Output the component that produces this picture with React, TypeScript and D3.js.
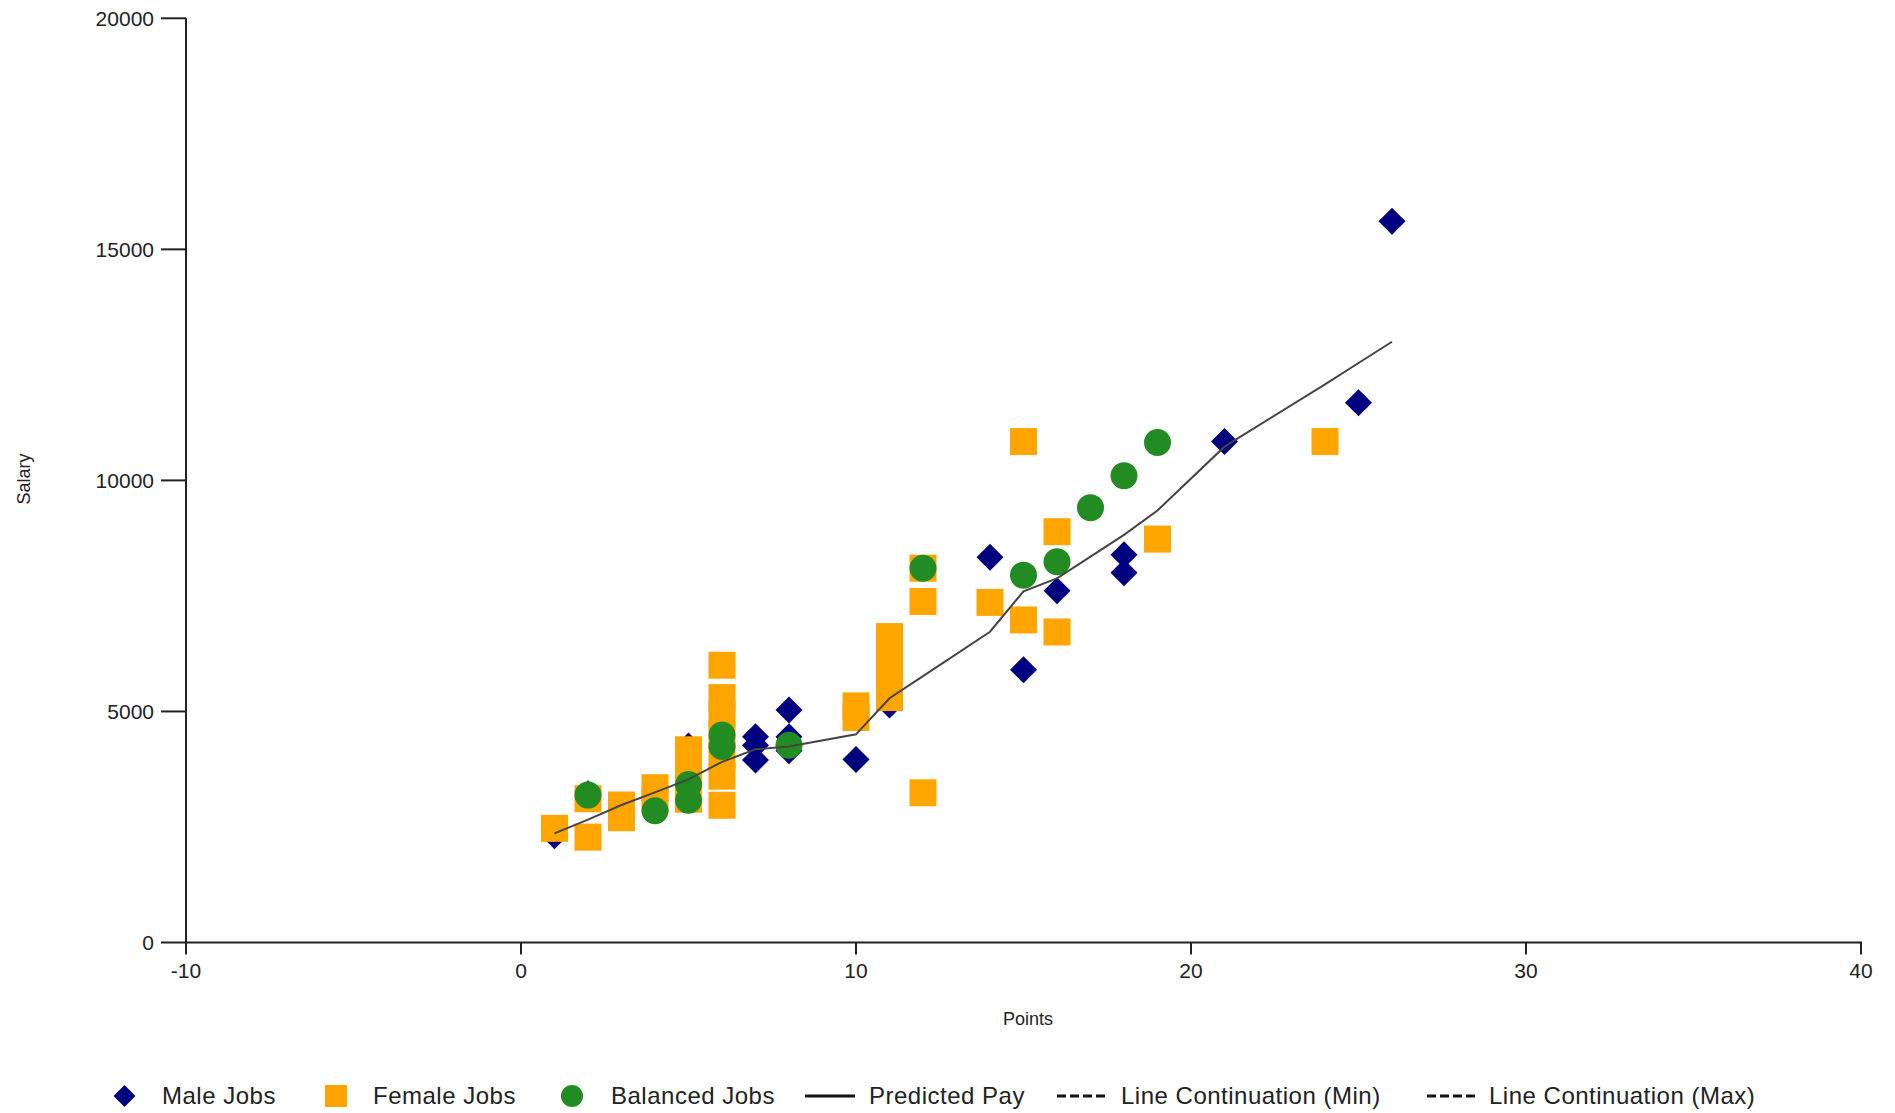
import React from "react";
import * as d3 from "d3";

// scatter data: [points, salary]
const maleJobs: [number, number][] = [
  [1, 2310], [2, 3220], [5, 4250], [7, 4450], [7, 4270], [7, 3950],
  [8, 5030], [8, 4450], [8, 4150], [10, 3960], [11, 5140], [14, 8335],
  [15, 5900], [16, 7610], [18, 8390], [18, 8000], [21, 10840], [25, 11680],
  [26, 15610],
];

const femaleJobs: [number, number][] = [
  [1, 2470], [2, 3110], [2, 2280], [3, 2975], [3, 2700], [4, 3350],
  [4, 3100], [5, 4170], [5, 3750], [5, 3400], [5, 3100], [6, 6000],
  [6, 5300], [6, 4950], [6, 4500], [6, 4050], [6, 3600], [6, 2970],
  [10, 5120], [10, 4870], [11, 6620], [11, 6150], [11, 5700], [11, 5300],
  [12, 8100], [12, 7380], [12, 3240], [14, 7360], [15, 10840], [15, 6980],
  [16, 8890], [16, 6720], [19, 8730], [24, 10840],
];

const balancedJobs: [number, number][] = [
  [2, 3190], [4, 2850], [5, 3420], [5, 3080], [6, 4490], [6, 4240],
  [8, 4270], [12, 8100], [15, 7950], [16, 8240], [17, 9410], [18, 10100],
  [19, 10820],
];

const predictedPay: [number, number][] = [
  [1, 2360], [2, 2660], [3, 2975], [4, 3250], [5, 3530], [6, 3910],
  [7, 4180], [8, 4240], [10, 4505], [11, 5285], [12, 5765], [14, 6725],
  [15, 7600], [16, 7880], [18, 8820], [19, 9350], [21, 10730], [24, 12080],
  [25, 12540], [26, 13000],
];

const xTicks = [-10, 0, 10, 20, 30, 40];
const yTicks = [0, 5000, 10000, 15000, 20000];

const legendItems = [
  { label: "Male Jobs", kind: "diamond" },
  { label: "Female Jobs", kind: "square" },
  { label: "Balanced Jobs", kind: "circle" },
  { label: "Predicted Pay", kind: "line" },
  { label: "Line Continuation (Min)", kind: "dash" },
  { label: "Line Continuation (Max)", kind: "dash" },
];

const MALE = "#000080";
const FEMALE = "#FFA500";
const BALANCED = "#228B22";
const FONT = "'Liberation Sans', Arial, sans-serif";

// square rotated 45deg, size = half diagonal squared
const diamondType = {
  draw(context: any, size: number) {
    const r = Math.sqrt(size);
    context.moveTo(0, -r);
    context.lineTo(r, 0);
    context.lineTo(0, r);
    context.lineTo(-r, 0);
    context.closePath();
  },
};

const symbolPath = (kind: string, px: number) => {
  if (kind === "diamond") return d3.symbol().type(diamondType as any).size((px / 2) ** 2)()!;
  if (kind === "square") return d3.symbol().type(d3.symbolSquare).size(px * px)()!;
  return d3.symbol().type(d3.symbolCircle).size(Math.PI * (px / 2) ** 2)()!;
};

export default function App() {
  const width = 1895;
  const height = 1113;

  const x = d3.scaleLinear().domain([-10, 40]).range([186, 1861]);
  const y = d3.scaleLinear().domain([0, 20000]).range([942.5, 18.3]);

  const line = d3
    .line<[number, number]>()
    .x((d) => x(d[0]))
    .y((d) => y(d[1]));

  const markerSize = 27;
  const legendSize = 22;
  const legendY = 1096;
  const legendSymbolX = [124.5, 336, 572, 830, 1082, 1452];
  const legendTextX = [162, 373, 611, 869, 1121, 1489];

  const series = [
    { data: maleJobs, kind: "diamond", color: MALE },
    { data: femaleJobs, kind: "square", color: FEMALE },
    { data: balancedJobs, kind: "circle", color: BALANCED },
  ];

  return (
    <svg
      width={width}
      height={height}
      viewBox={`0 0 ${width} ${height}`}
      style={{ position: "absolute", left: 0, top: 0, background: "#fff" }}
      fontFamily={FONT}
    >
      {/* axes */}
      <g stroke="#222" strokeWidth={2}>
        <line x1={x(-10)} x2={x(-10)} y1={y(20000)} y2={y(0) + 1} />
        <line x1={x(-10) - 1} x2={x(40) + 1} y1={y(0)} y2={y(0)} />
        {yTicks.map((t) => (
          <line key={`yt-${t}`} x1={x(-10) - 25} x2={x(-10)} y1={y(t)} y2={y(t)} />
        ))}
        {xTicks.map((t) => (
          <line key={`xt-${t}`} x1={x(t)} x2={x(t)} y1={y(0)} y2={y(0) + 12} />
        ))}
      </g>
      <g fill="#222" fontSize={21}>
        {yTicks.map((t) => (
          <text key={`yl-${t}`} x={x(-10) - 32} y={y(t)} dy="0.35em" textAnchor="end">
            {t}
          </text>
        ))}
        {xTicks.map((t) => (
          <text key={`xl-${t}`} x={x(t)} y={y(0) + 35} textAnchor="middle">
            {t}
          </text>
        ))}
      </g>
      <text
        x={0}
        y={0}
        transform="translate(24,479) rotate(-90)"
        textAnchor="middle"
        dy="0.35em"
        fontSize={18}
        fill="#222"
      >
        Salary
      </text>
      <text x={1028} y={1019} dy="0.35em" textAnchor="middle" fontSize={18} fill="#222">
        Points
      </text>

      {/* scatter */}
      {series.map((s) => (
        <g key={s.kind} fill={s.color}>
          {s.data.map((d, i) => (
            <path
              key={i}
              d={symbolPath(s.kind, markerSize)}
              transform={`translate(${x(d[0])},${y(d[1])})`}
            />
          ))}
        </g>
      ))}

      <path d={line(predictedPay)!} fill="none" stroke="#444" strokeWidth={2} />

      {/* legend */}
      <g fontSize={24} fill="#222" letterSpacing={0.5}>
        {legendItems.map((item, i) => (
          <g key={item.label}>
            {item.kind === "line" || item.kind === "dash" ? (
              <line
                x1={legendSymbolX[i] - 25}
                x2={legendSymbolX[i] + 25}
                y1={legendY}
                y2={legendY}
                stroke="#111"
                strokeWidth={3}
                strokeDasharray={item.kind === "dash" ? "9,4" : undefined}
              />
            ) : (
              <path
                d={symbolPath(item.kind, legendSize)}
                transform={`translate(${legendSymbolX[i]},${legendY})`}
                fill={item.kind === "diamond" ? MALE : item.kind === "square" ? FEMALE : BALANCED}
              />
            )}
            <text x={legendTextX[i]} y={legendY} dy="0.35em">
              {item.label}
            </text>
          </g>
        ))}
      </g>
    </svg>
  );
}
